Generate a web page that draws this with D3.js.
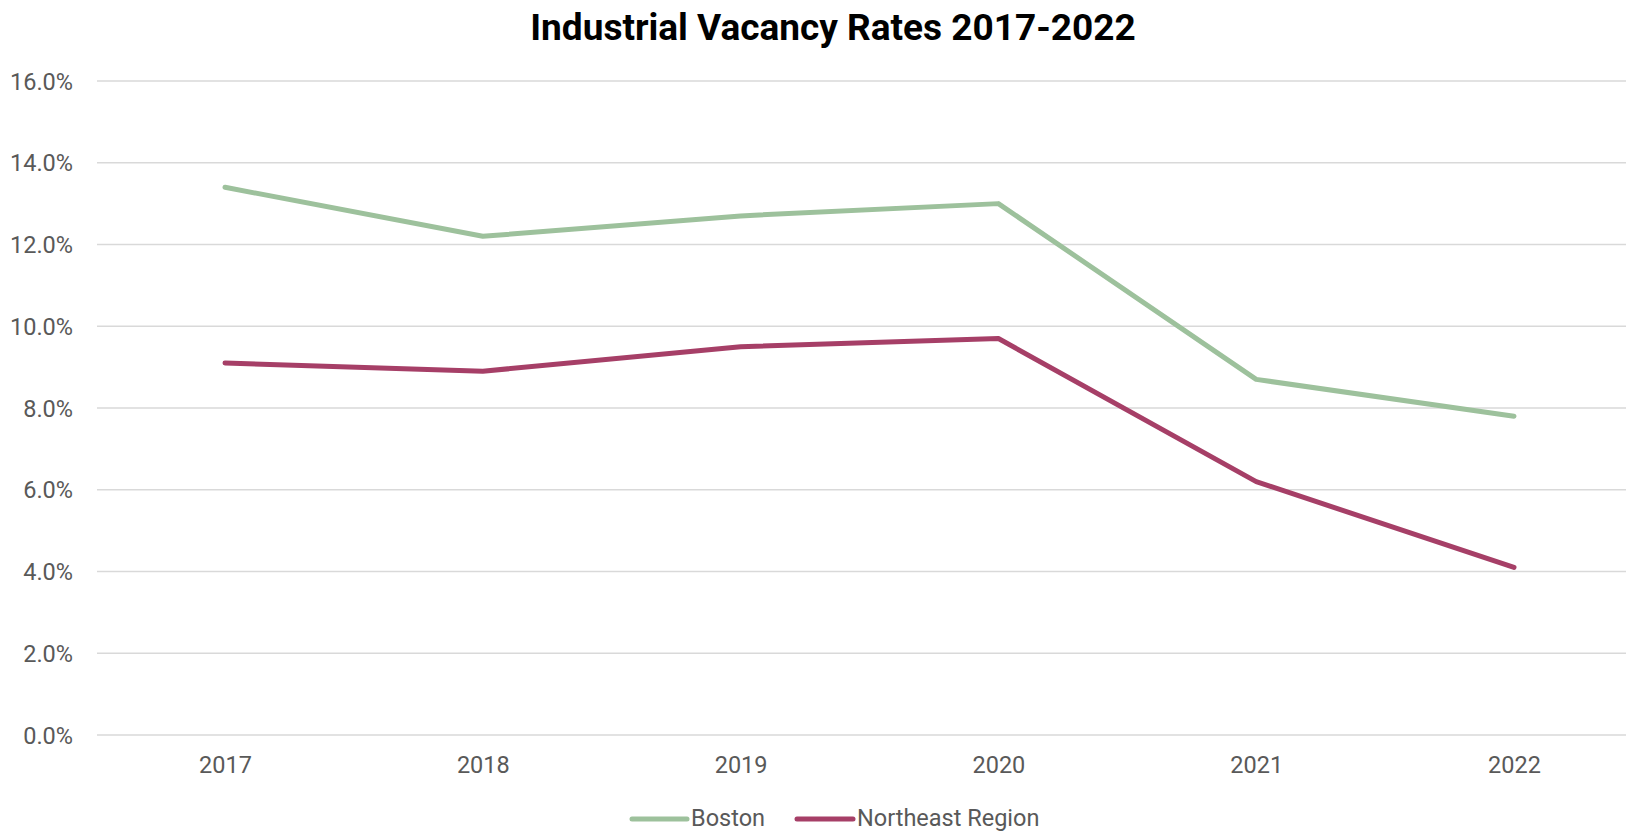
<!DOCTYPE html>
<html>
<head>
<meta charset="utf-8">
<script src="https://cdn.jsdelivr.net/npm/d3@7"></script>
<style>
  html, body { margin: 0; padding: 0; background: #fff; }
  svg { display: block; font-family: Roboto, "Open Sans", sans-serif; }
</style>
</head>
<body>
<svg id="chart" width="1626" height="832"></svg>
<script>
// Vacancy rates (%) by year
const years = ["2017", "2018", "2019", "2020", "2021", "2022"];
const boston = [13.4, 12.2, 12.7, 13.0, 8.7, 7.8];
const northeast = [9.1, 8.9, 9.5, 9.7, 6.2, 4.1];
const yTicks = [0, 2, 4, 6, 8, 10, 12, 14, 16];

const seriesNames = ["Boston", "Northeast Region"];
const seriesColors = ["#9dc19c", "#a63f67"];
const series = [
  { name: seriesNames[0], values: boston, color: seriesColors[0] },
  { name: seriesNames[1], values: northeast, color: seriesColors[1] }
];

const W = 1626, H = 832;
const plotLeft = 97, plotRight = 1626;
const labelSize = 23.5;
const svg = d3.select("#chart");

const x = d3.scalePoint().domain(years).range([225, 1514]);
const y = d3.scaleLinear().domain([0, 16]).range([735, 81]);

// Title
svg.append("text")
  .attr("x", 833).attr("y", 40)
  .attr("text-anchor", "middle")
  .attr("font-size", 37).attr("font-weight", 700)
  .attr("fill", "#000")
  .text("Industrial Vacancy Rates 2017-2022");

// Horizontal gridlines
svg.append("g").selectAll("line").data(yTicks).join("line")
  .attr("x1", plotLeft).attr("x2", plotRight)
  .attr("y1", d => y(d)).attr("y2", d => y(d))
  .attr("stroke", "#d9d9d9").attr("stroke-width", 1.5);

// Y axis labels
const yAxis = d3.axisLeft(y).tickValues(yTicks)
  .tickFormat(d => d3.format(".1f")(d) + "%").tickSize(0).tickPadding(0);
const gy = svg.append("g").attr("transform", "translate(73,0)").call(yAxis);
gy.select(".domain").remove();
gy.selectAll("text")
  .attr("font-family", "Roboto, sans-serif")
  .attr("font-size", labelSize).attr("fill", "#595959").attr("dy", "0.35em");

// X axis labels
const xAxis = d3.axisBottom(x).tickSize(0).tickPadding(0);
const gx = svg.append("g").attr("transform", "translate(0,773)").call(xAxis);
gx.select(".domain").remove();
gx.selectAll("text")
  .attr("font-family", "Roboto, sans-serif")
  .attr("font-size", labelSize).attr("fill", "#595959").attr("dy", 0).attr("y", 0);

// Lines
const line = d3.line().x((d, i) => x(years[i])).y(d => y(d));
svg.append("g").selectAll("path").data(series).join("path")
  .attr("d", d => line(d.values))
  .attr("fill", "none")
  .attr("stroke", d => d.color)
  .attr("stroke-width", 5)
  .attr("stroke-linejoin", "round")
  .attr("stroke-linecap", "round");

// Legend
const legendItems = [
  { x1: 632, x2: 687, tx: 691 },
  { x1: 797, x2: 853, tx: 857 }
];
const lg = svg.append("g");
series.forEach((s, i) => {
  const it = legendItems[i];
  lg.append("line")
    .attr("x1", it.x1).attr("x2", it.x2).attr("y1", 819).attr("y2", 819)
    .attr("stroke", s.color).attr("stroke-width", 5).attr("stroke-linecap", "round");
  lg.append("text")
    .attr("x", it.tx).attr("y", 826)
    .attr("font-size", labelSize).attr("fill", "#595959")
    .text(s.name);
});
</script>
</body>
</html>
